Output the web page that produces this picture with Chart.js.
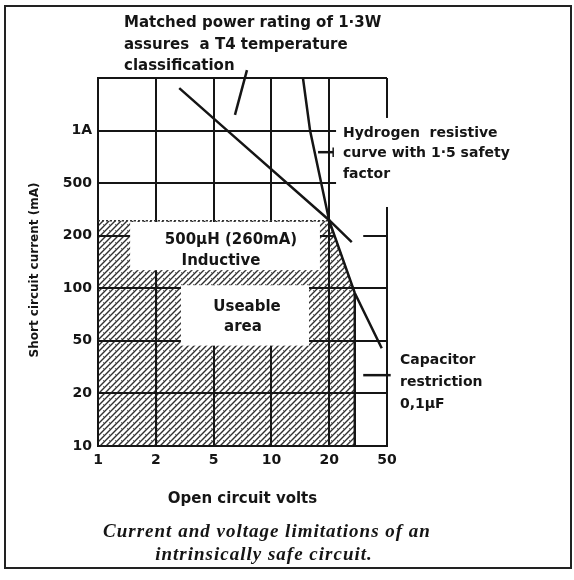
<!DOCTYPE html>
<html><head><meta charset="utf-8">
<script src="https://cdn.jsdelivr.net/npm/chart.js@4.4.1/dist/chart.umd.min.js"></script>
<style>html,body{margin:0;padding:0;background:#fff;}</style>
</head><body>
<canvas id="c" width="574" height="580"></canvas>
<script>
// ---- data ----
const X_TICKS = [1, 2, 5, 10, 20, 50];                 // open circuit volts
const X_TICK_LABELS = ['1', '2', '5', '10', '20', '50'];
const Y_TICKS = [10, 20, 50, 100, 200, 500, 1000, 2000]; // short circuit mA
const Y_TICK_LABELS = ['10', '20', '50', '100', '200', '500', '1A', ''];

// Matched power rating line (1.3 W)
const POWER_V  = [2.9, 5.9, 20, 28.6];
const POWER_MA = [1750, 1000, 262, 184];

// Hydrogen resistive curve with 1.5 safety factor
const HYDROGEN_V  = [14.6, 15.9, 20, 30, 46];
const HYDROGEN_MA = [2000, 1000, 260, 94, 44];

// Useable area upper boundary (inductive 500uH limit 260 mA, then hydrogen curve)
const AREA_V  = [1, 20, 30, 30];
const AREA_MA = [260, 260, 94, 10];

// Capacitor restriction (0.1 uF) edge
const CAP_V  = [30, 30];
const CAP_MA = [94, 10];

// ---- custom 1-2-5 equally spaced scale ----
const TICKSETS = { x: X_TICKS, y: Y_TICKS };
class StepLogScale extends Chart.LinearScale {
  _tv() { return TICKSETS[this.id]; }
  determineDataLimits() { const t = this._tv(); this.min = t[0]; this.max = t[t.length - 1]; }
  buildTicks() { return this._tv().map(v => ({ value: v })); }
  _dec(v) {
    const t = this._tv(), n = t.length; let i = 0;
    while (i < n - 2 && v > t[i + 1]) i++;
    const f = Math.log(v / t[i]) / Math.log(t[i + 1] / t[i]);
    return (i + f) / (n - 1);
  }
  getPixelForValue(v) { return (v === null || v === undefined || v <= 0) ? NaN : this.getPixelForDecimal(this._dec(v)); }
  getValueForPixel(p) {
    const t = this._tv(), n = t.length;
    const d = this.getDecimalForPixel(p) * (n - 1);
    const i = Math.max(0, Math.min(n - 2, Math.floor(d)));
    return t[i] * Math.pow(t[i + 1] / t[i], d - i);
  }
}
StepLogScale.id = 'steplog';
Chart.register(StepLogScale);

const canvas = document.getElementById('c');
const ctx0 = canvas.getContext('2d');

const hatch = (() => {
  const s = 6, c = document.createElement('canvas'); c.width = c.height = s;
  const g = c.getContext('2d');
  g.strokeStyle = 'rgba(25,25,25,0.9)'; g.lineWidth = 1.4;
  g.beginPath();
  g.moveTo(-1, 1); g.lineTo(1, -1);
  g.moveTo(0, s); g.lineTo(s, 0);
  g.moveTo(s - 1, s + 1); g.lineTo(s + 1, s - 1);
  g.stroke();
  g.fillStyle = 'rgba(25,25,25,0.6)';
  g.fillRect(1, 2, 1, 1);
  return ctx0.createPattern(c, 'repeat');
})();

const pts = (xs, ys) => xs.map((v, i) => ({ x: v, y: ys[i] }));
const INK = '#151515';
const FONT = 'DejaVu Sans';

const decor = {
  id: 'decor',
  beforeDatasetsDraw(chart) {
    const { ctx, scales: { x, y } } = chart;
    const X = v => x.getPixelForValue(v), Y = v => y.getPixelForValue(v);
    ctx.save();
    ctx.fillStyle = '#fff';
    // gap in the 200 mA grid line right of the curves
    ctx.fillRect(X(21.8), Y(215), X(34.3) - X(21.8), Y(190) - Y(215));
    ctx.restore();
  },
  afterDatasetsDraw(chart) {
    const { ctx, scales: { x, y } } = chart;
    const X = v => x.getPixelForValue(v), Y = v => y.getPixelForValue(v);
    const rect = (v0, m0, v1, m1, fill) => {
      ctx.fillStyle = fill;
      ctx.fillRect(X(v0), Y(m0), X(v1) - X(v0), Y(m1) - Y(m0));
    };
    ctx.save();
    rect(1.47, 254, 17.9, 127, '#fff');
    rect(2.07, 127, 17.9, 104, '#fff');
    rect(2.07, 127, 17.9, 104, hatch);
    rect(2.98, 104, 15.7, 46, '#fff');
    rect(22.3, 1181, 60, 330, '#fff');

    // pointers
    ctx.strokeStyle = INK; ctx.lineWidth = 2.5; ctx.lineCap = 'butt';
    const seg = (v0, m0, v1, m1) => { ctx.beginPath(); ctx.moveTo(X(v0), Y(m0)); ctx.lineTo(X(v1), Y(m1)); ctx.stroke(); };
    seg(6.46, 1231, 7.46, 2219);
    seg(17.5, 752, 21.3, 752);
    seg(34.3, 27.5, 53, 27.5);
    ctx.lineWidth = 1.5;
    seg(21.3, 800, 21.3, 705);
    seg(50, 29.5, 50, 25.5);

    ctx.fillStyle = INK;
    ctx.textAlign = 'center'; ctx.textBaseline = 'middle';
    ctx.font = `bold 15px "${FONT}"`;
    ctx.fillText('500µH (260mA)', 231, 240);
    ctx.fillText('Inductive', 221, 261);
    ctx.fillText('Useable', 247, 307);
    ctx.fillText('area', 243, 327);
    ctx.restore();
  },
  afterDraw(chart) {
    const { ctx } = chart;
    ctx.save();
    ctx.fillStyle = INK;
    ctx.textAlign = 'left'; ctx.textBaseline = 'middle';
    ctx.font = `bold 15px "${FONT}"`;
    ctx.fillText('Matched power rating of 1·3W', 124, 23);
    ctx.fillText('assures  a T4 temperature', 124, 45);
    ctx.fillText('classification', 124, 66);
    ctx.font = `bold 14px "${FONT}"`;
    ctx.fillText('Hydrogen  resistive', 343, 133);
    ctx.fillText('curve with 1·5 safety', 343, 153);
    ctx.fillText('factor', 343, 174);
    ctx.fillText('Capacitor', 400, 360);
    ctx.fillText('restriction', 400, 382);
    ctx.fillText('0,1µF', 400, 404);

    // y axis title
    ctx.save();
    ctx.translate(35, 270);
    ctx.rotate(-Math.PI / 2);
    ctx.textAlign = 'center';
    ctx.font = `bold 12px "${FONT}"`;
    ctx.fillText('Short circuit current (mA)', 0, 0);
    ctx.restore();

    ctx.textAlign = 'center';
    ctx.font = 'italic bold 19px "Liberation Serif"';
    ctx.letterSpacing = '1px';
    ctx.fillText('Current and voltage limitations of an', 267, 532);
    ctx.fillText('intrinsically safe circuit.', 264, 555);
    ctx.letterSpacing = '0px';
    ctx.strokeStyle = '#222'; ctx.lineWidth = 2;
    ctx.strokeRect(5, 6, 566, 562);
    ctx.restore();
  }
};

const axisCommon = {
  type: 'steplog',
  grid: { color: INK, lineWidth: 2, drawTicks: false },
  border: { display: true, color: INK, width: 2 },
};

new Chart(canvas, {
  type: 'scatter',
  data: {
    datasets: [
      { label: 'Matched power 1.3W', data: pts(POWER_V, POWER_MA), showLine: true,
        borderColor: INK, borderWidth: 2.5, pointRadius: 0, order: 0 },
      { label: 'Hydrogen resistive curve', data: pts(HYDROGEN_V, HYDROGEN_MA), showLine: true,
        borderColor: INK, borderWidth: 2.5, pointRadius: 0, order: 0 },
      { label: 'Capacitor restriction', data: pts(CAP_V, CAP_MA), showLine: true,
        borderColor: INK, borderWidth: 2.5, pointRadius: 0, order: 1 },
      { label: 'Useable area', data: pts(AREA_V, AREA_MA), showLine: true,
        borderColor: '#333', borderWidth: 1.5, borderDash: [2, 2], pointRadius: 0,
        fill: 'origin', backgroundColor: hatch, order: 10 }
    ]
  },
  options: {
    responsive: false, animation: false, devicePixelRatio: 1,
    layout: { padding: { left: 0, top: 78, right: 187, bottom: 0 } },
    plugins: { legend: { display: false }, tooltip: { enabled: false } },
    scales: {
      x: Object.assign({}, axisCommon, {
        position: 'bottom',
        ticks: { padding: 6, color: INK, autoSkip: false, maxRotation: 0,
          font: { family: FONT, size: 14, weight: 'bold' },
          callback: (v, i) => X_TICK_LABELS[i] },
        title: { display: true, text: 'Open circuit volts', color: INK,
          font: { family: FONT, size: 15, weight: 'bold' }, padding: { top: 0, bottom: 72 } },
        afterFit: s => { s.height = 134; }
      }),
      y: Object.assign({}, axisCommon, {
        position: 'left',
        ticks: { padding: 6, color: INK, autoSkip: false,
          font: { family: FONT, size: 14, weight: 'bold' },
          callback: (v, i) => Y_TICK_LABELS[i] },
        title: { display: false },
        afterFit: s => { s.width = 98; }
      })
    }
  },
  plugins: [decor]
});
</script>
</body></html>
